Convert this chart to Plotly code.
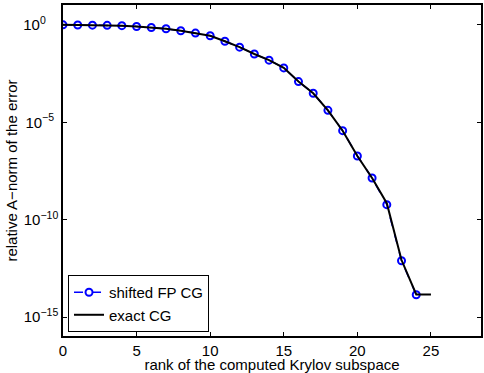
import plotly.graph_objects as go

# Krylov subspace rank (x) and relative A-norm of the error (y)
ranks_fp = list(range(25))
fp_cg = [1.0, 0.99, 0.97, 0.95, 0.91, 0.83, 0.73, 0.63, 0.50, 0.38,
         0.275, 0.145, 0.072, 0.032, 0.0155, 6.2e-3, 1.23e-3, 3.1e-4,
         4.1e-5, 3.7e-6, 1.86e-7, 1.38e-8, 5.9e-10, 7.8e-13, 1.4e-14]

ranks_exact = list(range(26))
exact_cg = [1.0, 0.99, 0.97, 0.95, 0.91, 0.83, 0.73, 0.63, 0.50, 0.38,
            0.275, 0.145, 0.072, 0.032, 0.0155, 6.2e-3, 1.23e-3, 3.1e-4,
            4.1e-5, 3.7e-6, 1.86e-7, 1.38e-8, 7.0e-10, 8.5e-13, 1.45e-14,
            1.45e-14]

x_ticks = [0, 5, 10, 15, 20, 25]
y_ticks = [1, 1e-5, 1e-10, 1e-15]
# trailing padding keeps the "10" bases of the power labels lined up
y_ticktext = ["10<sup>0</sup>\u00a0\u00a0\u00a0\u200b",
              "10<sup>\u22125</sup>\u00a0\u200b",
              "10<sup>\u221210</sup>",
              "10<sup>\u221215</sup>"]

FONT = "Liberation Sans, Arial, Helvetica, sans-serif"

fig = go.Figure()
fig.add_trace(go.Scatter(
    x=ranks_fp, y=fp_cg, name="shifted FP CG", mode="lines+markers",
    line=dict(color="#0000ff", width=1.5, dash="dash"),
    marker=dict(symbol="circle-open", size=7, color="#0000ff",
                line=dict(width=2, color="#0000ff")),
))
fig.add_trace(go.Scatter(
    x=ranks_exact, y=exact_cg, name="exact CG", mode="lines",
    line=dict(color="black", width=2),
))

axis_common = dict(
    showline=True, linecolor="black", linewidth=1.5, mirror="allticks",
    ticks="inside", ticklen=4, tickwidth=1, tickcolor="black",
    showgrid=False, zeroline=False,
    tickfont=dict(family=FONT, size=15, color="black"),
)

fig.update_layout(
    width=484, height=373,
    margin=dict(l=63, r=1, t=5, b=35),
    paper_bgcolor="white", plot_bgcolor="white",
    font=dict(family=FONT, size=15, color="black"),
    xaxis=dict(
        range=[0, 28.4], tickvals=x_ticks,
        title=dict(text="rank of the computed Krylov subspace",
                   font=dict(family=FONT, size=15), standoff=3),
        **axis_common,
    ),
    yaxis=dict(
        type="log", range=[-15.97, 1.02],
        tickvals=y_ticks, ticktext=y_ticktext,
        title=dict(text="relative A\u2212norm of the error",
                   font=dict(family=FONT, size=15), standoff=2),
        **axis_common,
    ),
    legend=dict(
        x=0.012, y=0.012, xanchor="left", yanchor="bottom",
        bgcolor="white", bordercolor="black", borderwidth=1,
        font=dict(family=FONT, size=15), tracegroupgap=0,
        itemwidth=30,
    ),
    showlegend=True,
)

fig.write_html("out.html")
